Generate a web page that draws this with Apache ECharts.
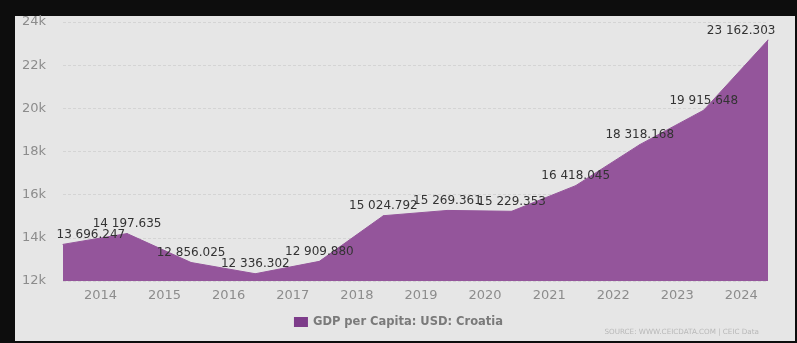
<!DOCTYPE html>
<html>
<head>
<meta charset="utf-8">
<script src="https://cdn.jsdelivr.net/npm/echarts@6/dist/echarts.min.js"></script>
<style>
html,body{margin:0;padding:0;background:#0d0d0d;}
#c{width:797px;height:343px;}
</style>
</head>
<body>
<div id="c"></div>
<script>
// Data
const dates = ['2013-06-01','2014-06-01','2015-06-01','2016-06-01','2017-06-01','2018-06-01',
               '2019-06-01','2020-06-01','2021-06-01','2022-06-01','2023-06-01','2024-06-01'];
const values = [13696.247, 14197.635, 12856.025, 12336.302, 12909.880, 15024.792,
                15269.361, 15229.353, 16418.045, 18318.168, 19915.648, 23162.303];
const yTicks = [12000, 14000, 16000, 18000, 20000, 22000, 24000];
const seriesName = 'GDP per Capita: USD: Croatia';
const sourceText = 'SOURCE: WWW.CEICDATA.COM | CEIC Data';

function fmt(v){
  const s = v.toFixed(3).split('.');
  const intPart = s[0].replace(/\B(?=(\d{3})+(?!\d))/g, ' ');
  return intPart + '.' + s[1];
}

const data = dates.map((d,i)=>{
  const item = {value:[d, values[i]]};
  if(i===0) item.label = {position:[-6,-3], align:'left', verticalAlign:'bottom'};
  if(i===dates.length-1) item.label = {position:[8,-3], align:'right', verticalAlign:'bottom'};
  return item;
});

const chart = echarts.init(document.getElementById('c'));
chart.setOption({
  backgroundColor:'#0d0d0d',
  animation:false,
  graphic:[{type:'rect', z:-100, silent:true, shape:{x:15,y:16,width:780,height:325}, style:{fill:'#e6e6e6'}}],
  title:{text:sourceText, right:33, bottom:2, textStyle:{fontSize:7.2, color:'#b8b8b8', fontWeight:'normal', fontFamily:'DejaVu Sans'}},
  grid:{left:63, right:29, top:22, bottom:62},
  legend:{
    bottom:10, left:'center', icon:'rect', itemWidth:14, itemHeight:10, itemGap:5,
    textStyle:{fontSize:11.5, fontWeight:'bold', color:'#7a7a7a', fontFamily:'DejaVu Sans'},
    data:[{name:seriesName, itemStyle:{color:'#7d3c8a'}}]
  },
  xAxis:{
    type:'time', min:dates[0], max:dates[dates.length-1],
    splitNumber:11, minInterval:365*864e5,
    axisLine:{show:false}, axisTick:{show:false}, splitLine:{show:false},
    axisLabel:{
      fontSize:13, color:'#8c8c8c', fontFamily:'DejaVu Sans', margin:8,
      showMinLabel:false, showMaxLabel:false,
      formatter:function(v){ const d=new Date(v); return (d.getMonth()===0 && d.getDate()===1) ? String(d.getFullYear()) : ''; }
    }
  },
  yAxis:{
    type:'value', min:yTicks[0], max:yTicks[yTicks.length-1], interval:2000,
    axisLine:{show:false}, axisTick:{show:false},
    splitLine:{lineStyle:{type:[3,2], color:'#d4d4d4', width:1}},
    axisLabel:{fontSize:13, color:'#8c8c8c', fontFamily:'DejaVu Sans', margin:17, formatter:v=>(v/1000)+'k'}
  },
  series:[{
    name:seriesName, type:'line', data:data, symbol:'circle', symbolSize:1, showSymbol:true,
    lineStyle:{width:1, color:'#94559b'}, itemStyle:{color:'#94559b'},
    areaStyle:{color:'#94559b', opacity:1},
    label:{show:true, position:'top', distance:3, fontSize:12, color:'#333', fontFamily:'DejaVu Sans', formatter:p=>fmt(p.value[1])},
    labelLayout:{hideOverlap:false}
  }]
});
</script>
</body>
</html>
